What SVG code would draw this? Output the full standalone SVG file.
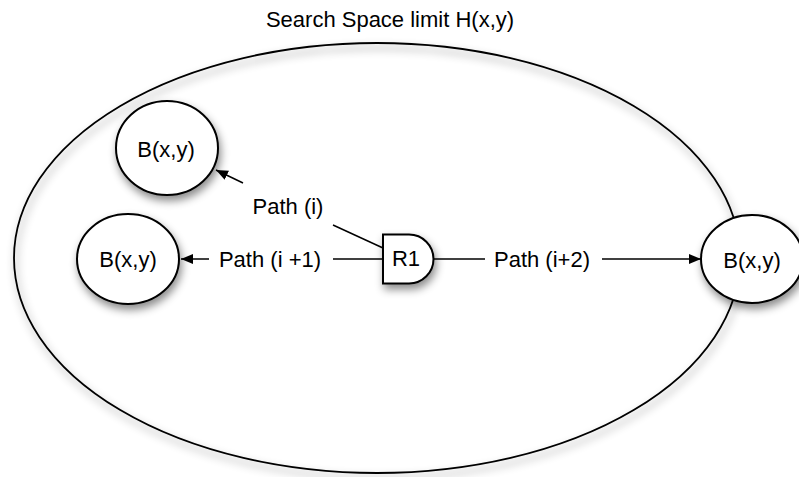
<svg xmlns="http://www.w3.org/2000/svg" width="799" height="477" viewBox="0 0 799 477">
<defs>
<style>
text{font-family:"Liberation Sans",Arial,sans-serif;font-size:22px;fill:#000}
.node{fill:#fff;stroke:#000;stroke-width:2}
.conn{stroke:#000;stroke-width:1.5;fill:none}
</style>
<filter id="sh" x="-20%" y="-20%" width="150%" height="150%">
<feDropShadow dx="2" dy="5" stdDeviation="4" flood-color="#000" flood-opacity="0.45"/>
</filter>
<marker id="arr" viewBox="0 0 12 10" refX="12" refY="5" markerWidth="12" markerHeight="10" markerUnits="userSpaceOnUse" orient="auto">
<path d="M0,0 L12,5 L0,10 Z" fill="#000"/>
</marker>
</defs>
<rect width="799" height="477" fill="#fff"/>
<g id="space">
<ellipse cx="377" cy="258" rx="363" ry="215" fill="none" stroke="#000" stroke-width="1.8" filter="url(#sh)"/>
<text x="390" y="27" text-anchor="middle">Search Space limit H(x,y)</text>
</g>
<g id="connectors">
<line class="conn" x1="243" y1="183" x2="216" y2="170" marker-end="url(#arr)"/>
<line class="conn" x1="333" y1="225" x2="383" y2="248"/>
<line class="conn" x1="333" y1="259" x2="383" y2="259"/>
<line class="conn" x1="209" y1="259" x2="181" y2="259" marker-end="url(#arr)"/>
<line class="conn" x1="433" y1="259" x2="485" y2="259"/>
<line class="conn" x1="602" y1="259" x2="701" y2="259" marker-end="url(#arr)"/>
<text x="288" y="214" text-anchor="middle">Path (i)</text>
<text x="270" y="267" text-anchor="middle">Path (i +1)</text>
<text x="542" y="267" text-anchor="middle">Path (i+2)</text>
</g>
<g id="b1">
<ellipse class="node" cx="167" cy="148" rx="51" ry="47" filter="url(#sh)"/>
<text x="166" y="157" text-anchor="middle">B(x,y)</text>
</g>
<g id="b2">
<ellipse class="node" cx="128" cy="259" rx="51" ry="45" filter="url(#sh)"/>
<text x="128" y="267" text-anchor="middle">B(x,y)</text>
</g>
<g id="b3">
<ellipse class="node" cx="752" cy="259" rx="51" ry="44" filter="url(#sh)"/>
<text x="752" y="268" text-anchor="middle">B(x,y)</text>
</g>
<g id="r1">
<path class="node" d="M383,234.5 H409 A24.5,24.5 0 0 1 409,283.5 H383 Z" filter="url(#sh)"/>
<text x="406" y="266" text-anchor="middle">R1</text>
</g>
</svg>
